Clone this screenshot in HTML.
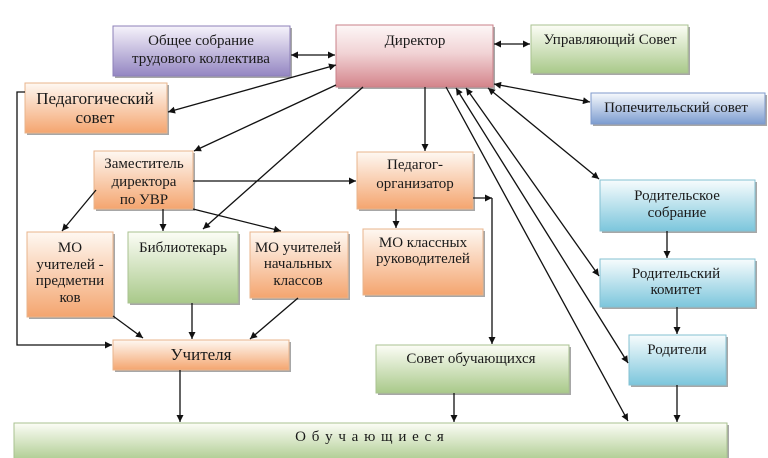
<!DOCTYPE html>
<html><head><meta charset="utf-8"><style>
html,body{margin:0;padding:0;background:#fff;}
svg{display:block;}
svg text{font-family:"Liberation Serif","Times New Roman","DejaVu Serif",serif !important;fill:#1a1a1a;text-anchor:middle;}
</style></head><body>
<svg width="768" height="458" viewBox="0 0 768 458" xmlns="http://www.w3.org/2000/svg" font-family="Liberation Serif, DejaVu Serif, serif">
<defs>
<linearGradient id="gPur" x1="0" y1="0" x2="0" y2="1"><stop offset="0" stop-color="#f6f3fb"/><stop offset="1" stop-color="#9486c2"/></linearGradient>
<linearGradient id="gRed" x1="0" y1="0" x2="0" y2="1"><stop offset="0" stop-color="#fdf7f7"/><stop offset="0.45" stop-color="#f1d3d5"/><stop offset="1" stop-color="#d4848b"/></linearGradient>
<linearGradient id="gGrn" x1="0" y1="0" x2="0" y2="1"><stop offset="0" stop-color="#fcfdf6"/><stop offset="1" stop-color="#a9c98a"/></linearGradient>
<linearGradient id="gBlu" x1="0" y1="0" x2="0" y2="1"><stop offset="0" stop-color="#f7f9fd"/><stop offset="1" stop-color="#7c9cd0"/></linearGradient>
<linearGradient id="gCyn" x1="0" y1="0" x2="0" y2="1"><stop offset="0" stop-color="#f7fcfd"/><stop offset="1" stop-color="#7cc6dc"/></linearGradient>
<linearGradient id="gOrg" x1="0" y1="0" x2="0" y2="1"><stop offset="0" stop-color="#fef8f2"/><stop offset="1" stop-color="#f4a56f"/></linearGradient>
<marker id="ah" viewBox="0 0 10 10" refX="10" refY="5" markerWidth="8" markerHeight="7" markerUnits="userSpaceOnUse" orient="auto-start-reverse"><path d="M0,0 L10,5 L0,10 z" fill="#111"/></marker>
</defs>

<!-- shadows -->
<g fill="#8a8a8a" opacity="0.75">
<rect x="115" y="28" width="177" height="50"/>
<rect x="338" y="27" width="157" height="62"/>
<rect x="533" y="27" width="157" height="48"/>
<rect x="593" y="95" width="174" height="31"/>
<rect x="27" y="85" width="142" height="50"/>
<rect x="96" y="153" width="99" height="58"/>
<rect x="359" y="154" width="116" height="57"/>
<rect x="602" y="182" width="155" height="51"/>
<rect x="29" y="234" width="86" height="85"/>
<rect x="130" y="234" width="110" height="71"/>
<rect x="252" y="234" width="98" height="66"/>
<rect x="365" y="231" width="120" height="66"/>
<rect x="115" y="342" width="176" height="30"/>
<rect x="378" y="347" width="193" height="48"/>
<rect x="602" y="261" width="155" height="48"/>
<rect x="631" y="337" width="97" height="50"/>
<rect x="16" y="425" width="713" height="40"/>
</g>

<!-- boxes -->
<g stroke-width="1">
<rect x="113" y="26" width="177" height="50" fill="url(#gPur)" stroke="#8d80b8"/>
<rect x="336" y="25" width="157" height="62" fill="url(#gRed)" stroke="#c98088"/>
<rect x="531" y="25" width="157" height="48" fill="url(#gGrn)" stroke="#a9c290"/>
<rect x="591" y="93" width="174" height="31" fill="url(#gBlu)" stroke="#7f9acb"/>
<rect x="25" y="83" width="142" height="50" fill="url(#gOrg)" stroke="#e8b48c"/>
<rect x="94" y="151" width="99" height="58" fill="url(#gOrg)" stroke="#e8b48c"/>
<rect x="357" y="152" width="116" height="57" fill="url(#gOrg)" stroke="#e8b48c"/>
<rect x="600" y="180" width="155" height="51" fill="url(#gCyn)" stroke="#84c0d2"/>
<rect x="27" y="232" width="86" height="85" fill="url(#gOrg)" stroke="#e8b48c"/>
<rect x="128" y="232" width="110" height="71" fill="url(#gGrn)" stroke="#a9c290"/>
<rect x="250" y="232" width="98" height="66" fill="url(#gOrg)" stroke="#e8b48c"/>
<rect x="363" y="229" width="120" height="66" fill="url(#gOrg)" stroke="#e8b48c"/>
<rect x="113" y="340" width="176" height="30" fill="url(#gOrg)" stroke="#e8b48c"/>
<rect x="376" y="345" width="193" height="48" fill="url(#gGrn)" stroke="#a9c290"/>
<rect x="600" y="259" width="155" height="48" fill="url(#gCyn)" stroke="#84c0d2"/>
<rect x="629" y="335" width="97" height="50" fill="url(#gCyn)" stroke="#84c0d2"/>
<rect x="14" y="423" width="713" height="40" fill="url(#gGrn)" stroke="#a9c290"/>
</g>

<!-- connectors -->
<g stroke="#111" stroke-width="1.3" fill="none">
<line x1="291" y1="55" x2="335" y2="55" marker-start="url(#ah)" marker-end="url(#ah)"/>
<line x1="336" y1="65" x2="168" y2="112" marker-start="url(#ah)" marker-end="url(#ah)"/>
<line x1="494" y1="44" x2="530" y2="44" marker-start="url(#ah)" marker-end="url(#ah)"/>
<line x1="494" y1="84" x2="590" y2="102" marker-start="url(#ah)" marker-end="url(#ah)"/>
<line x1="488" y1="88" x2="599" y2="179" marker-start="url(#ah)" marker-end="url(#ah)"/>
<line x1="466" y1="88" x2="599" y2="276" marker-start="url(#ah)" marker-end="url(#ah)"/>
<line x1="456" y1="88" x2="628" y2="363" marker-start="url(#ah)" marker-end="url(#ah)"/>
<line x1="446" y1="87" x2="628" y2="421" marker-end="url(#ah)"/>
<line x1="336" y1="85" x2="194" y2="151" marker-end="url(#ah)"/>
<line x1="363" y1="87" x2="203" y2="229" marker-end="url(#ah)"/>
<line x1="425" y1="87" x2="425" y2="151" marker-end="url(#ah)"/>
<line x1="193" y1="181" x2="356" y2="181" marker-end="url(#ah)"/>
<line x1="96" y1="190" x2="62" y2="231" marker-end="url(#ah)"/>
<line x1="163" y1="209" x2="163" y2="231" marker-end="url(#ah)"/>
<line x1="193" y1="209" x2="281" y2="231" marker-end="url(#ah)"/>
<line x1="396" y1="209" x2="396" y2="228" marker-end="url(#ah)"/>
<line x1="473" y1="198" x2="492" y2="198" marker-end="url(#ah)"/>
<line x1="492" y1="198" x2="492" y2="344" marker-end="url(#ah)"/>
<polyline points="25,92 17,92 17,345 112,345" marker-end="url(#ah)"/>
<line x1="113" y1="316" x2="143" y2="338" marker-end="url(#ah)"/>
<line x1="192" y1="303" x2="192" y2="339" marker-end="url(#ah)"/>
<line x1="298" y1="298" x2="250" y2="339" marker-end="url(#ah)"/>
<line x1="180" y1="370" x2="180" y2="422" marker-end="url(#ah)"/>
<line x1="454" y1="393" x2="454" y2="422" marker-end="url(#ah)"/>
<line x1="677" y1="385" x2="677" y2="422" marker-end="url(#ah)"/>
<line x1="667" y1="231" x2="667" y2="258" marker-end="url(#ah)"/>
<line x1="677" y1="307" x2="677" y2="334" marker-end="url(#ah)"/>
</g>

<!-- labels -->
<g font-size="15" style="font-family:'Liberation Serif','DejaVu Serif',serif">
<text x="201" y="45">Общее собрание</text>
<text x="201" y="63">трудового коллектива</text>
<text x="415" y="45">Директор</text>
<text x="610" y="44">Управляющий Совет</text>
<text x="676" y="112">Попечительский совет</text>
<text x="144" y="168">Заместитель</text>
<text x="144" y="186">директора</text>
<text x="144" y="204">по УВР</text>
<text x="415" y="169">Педагог-</text>
<text x="415" y="188">организатор</text>
<text x="677" y="200">Родительское</text>
<text x="677" y="217">собрание</text>
<text x="70" y="252">МО</text>
<text x="70" y="269">учителей -</text>
<text x="70" y="285">предметни</text>
<text x="70" y="302">ков</text>
<text x="183" y="252">Библиотекарь</text>
<text x="298" y="252">МО учителей</text>
<text x="298" y="268">начальных</text>
<text x="298" y="285">классов</text>
<text x="423" y="247">МО классных</text>
<text x="423" y="263">руководителей</text>
<text x="471" y="363">Совет обучающихся</text>
<text x="676" y="278">Родительский</text>
<text x="676" y="294">комитет</text>
<text x="677" y="354">Родители</text>
</g>
<g font-size="17" style="font-family:'Liberation Serif','DejaVu Serif',serif">
<text x="95" y="104">Педагогический</text>
<text x="95" y="123">совет</text>
<text x="201" y="360">Учителя</text>
</g>
<text x="370" y="441" font-size="15" letter-spacing="1" style="font-family:'Liberation Serif','DejaVu Serif',serif">О б у ч а ю щ и е с я</text>
</svg>
</body></html>
